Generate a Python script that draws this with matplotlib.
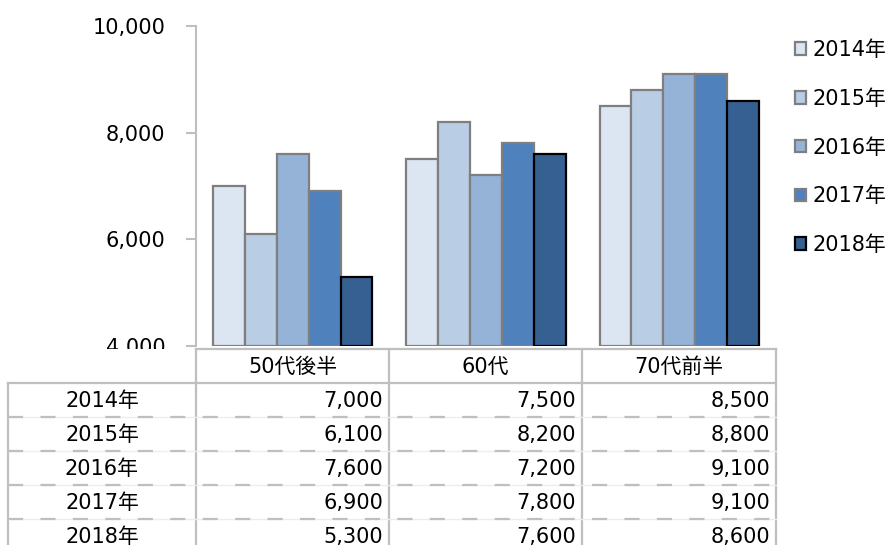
import matplotlib
matplotlib.use("Agg")
import matplotlib.pyplot as plt
import numpy as np
from matplotlib.patches import Rectangle

plt.rcParams["font.family"] = ["DejaVu Sans", "Noto Sans CJK JP"]

categories = ["50代後半", "60代", "70代前半"]
years = ["2014年", "2015年", "2016年", "2017年", "2018年"]
values = {
    "2014年": [7000, 7500, 8500],
    "2015年": [6100, 8200, 8800],
    "2016年": [7600, 7200, 9100],
    "2017年": [6900, 7800, 9100],
    "2018年": [5300, 7600, 8600],
}
yticks = [4000, 6000, 8000, 10000]

fill_colors = ["#DCE6F2", "#B9CDE5", "#95B3D7", "#4F81BD", "#376092"]
edge_colors = ["#7F7F7F", "#7F7F7F", "#7F7F7F", "#7F7F7F", "#000000"]

W, H = 890, 545
FS = 15
GRID = "#BFBFBF"

fig = plt.figure(figsize=(W / 100, H / 100), dpi=100)


def fig_box(x0, y0, x1, y1):
    # pixel box (top-left origin) -> figure fraction rect
    return [x0 / W, 1 - y1 / H, (x1 - x0) / W, (y1 - y0) / H]


ax = fig.add_axes(fig_box(196, 26, 776, 346))
x = np.arange(len(categories))
bw = 0.165
for i, yr in enumerate(years):
    ax.bar(x + (i - 2) * bw, np.array(values[yr]) - 4000, bottom=4000, width=bw,
           color=fill_colors[i], edgecolor=edge_colors[i], linewidth=1.6, label=yr,
           zorder=2)

ax.set_xlim(-0.5, len(categories) - 0.5)
ax.set_ylim(4000, 10000)
ax.set_yticks(yticks)
ax.set_yticklabels([f"{v:,}" for v in yticks], fontsize=FS)
ax.set_xticks([])
for s in ("top", "right", "bottom"):
    ax.spines[s].set_visible(False)
ax.spines["left"].set_color(GRID)
ax.spines["left"].set_linewidth(1.5)
ax.tick_params(axis="y", length=7, width=1.5, color=GRID, pad=15)

ax.legend(loc="upper left", bbox_to_anchor=(795 / W, 1 - 40 / H),
          bbox_transform=fig.transFigure, frameon=False, fontsize=FS,
          handlelength=0.55, handleheight=0.55, handletextpad=0.3,
          labelspacing=1.38, borderpad=0, borderaxespad=0)

# data table drawn in pixel space over the bottom of the figure
tab = fig.add_axes([0, 0, 1, 1], zorder=5)
tab.set_xlim(0, W)
tab.set_ylim(H, 0)
tab.axis("off")
tab.patch.set_alpha(0)
tab.add_patch(Rectangle((0, 349), W, H - 349, facecolor="white", edgecolor="none"))

col_x = [196, 389, 582, 776]
top_y, head_y, row_h = 349, 383, 34
lw = 1.6

tab.plot([col_x[0], col_x[-1]], [top_y, top_y], color=GRID, lw=lw)
tab.plot([8, col_x[-1]], [head_y, head_y], color=GRID, lw=lw)
for cx in col_x:
    tab.plot([cx, cx], [top_y, H], color=GRID, lw=lw)
tab.plot([8, 8], [head_y, H], color=GRID, lw=lw)
for r in range(1, len(years)):
    yy = head_y + r * row_h
    tab.plot([8, col_x[-1]], [yy, yy], color="#EDEDED", lw=1)
    tab.plot([8, col_x[-1]], [yy, yy], color=GRID, lw=lw, dashes=(6.8, 7.8))

for j, cat in enumerate(categories):
    tab.text((col_x[j] + col_x[j + 1]) / 2, (top_y + head_y) / 2 + 1, cat,
             ha="center", va="center", fontsize=FS)

for r, yr in enumerate(years):
    yc = head_y + r * row_h + row_h / 2 + 1
    tab.text(102, yc, yr, ha="center", va="center", fontsize=FS)
    for j, v in enumerate(values[yr]):
        tab.text(col_x[j + 1] - 6, yc, f"{v:,}", ha="right", va="center", fontsize=FS)

fig.savefig("out.png", dpi=100)
